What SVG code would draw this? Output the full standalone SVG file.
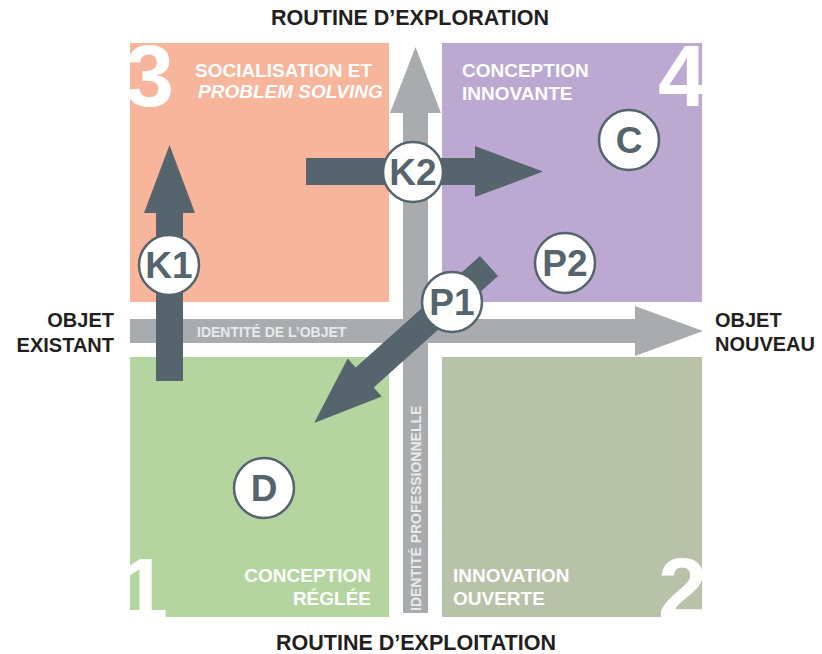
<svg xmlns="http://www.w3.org/2000/svg" width="822" height="654" viewBox="0 0 822 654">
<style>
.lbl{font-family:"Liberation Sans",Arial,sans-serif;font-weight:bold;font-size:19px;fill:#ffffff}
.num{font-family:"Liberation Sans",Arial,sans-serif;font-weight:bold;font-size:88px;fill:#ffffff}
.axis{font-family:"Liberation Sans",Arial,sans-serif;font-weight:bold;font-size:20px;fill:#231f20}
.title{font-family:"Liberation Sans",Arial,sans-serif;font-weight:bold;font-size:21.5px;fill:#231f20;text-anchor:middle}
.band{font-family:"Liberation Sans",Arial,sans-serif;font-weight:bold;font-size:14px;fill:#e9eaeb}
.node circle{fill:#ffffff;stroke:#56646e;stroke-width:2.5}
.node text{font-family:"Liberation Sans",Arial,sans-serif;font-weight:bold;font-size:37px;fill:#56646e;text-anchor:middle}
.dark{fill:#56646e}
.gray{fill:#a8acaf}
</style>
<defs>
<clipPath id="c3"><rect x="130" y="43" width="259" height="259"/></clipPath>
<clipPath id="c4"><rect x="442" y="43" width="260" height="259"/></clipPath>
<clipPath id="c1"><rect x="130" y="357" width="259" height="260"/></clipPath>
<clipPath id="c2"><rect x="442" y="357" width="260" height="260"/></clipPath>
</defs>
<rect width="822" height="654" fill="#ffffff"/>

<g id="q3">
<rect x="130" y="43" width="259" height="259" fill="#f7b59b"/>
<text class="num" x="125" y="106" clip-path="url(#c3)">3</text>
<text class="lbl" x="195" y="77">SOCIALISATION ET</text>
<text class="lbl" x="198" y="98" font-style="italic">PROBLEM SOLVING</text>
</g>
<g id="q4">
<rect x="442" y="43" width="260" height="259" fill="#bba9d2"/>
<text class="num" x="707" y="106" text-anchor="end" clip-path="url(#c4)">4</text>
<text class="lbl" x="462" y="77">CONCEPTION</text>
<text class="lbl" x="462" y="100">INNOVANTE</text>
</g>
<g id="q1">
<rect x="130" y="357" width="259" height="260" fill="#b4d5a0"/>
<text class="num" x="119" y="619" clip-path="url(#c1)">1</text>
<text class="lbl" x="371" y="582" text-anchor="end">CONCEPTION</text>
<text class="lbl" x="371" y="605" text-anchor="end">RÉGLÉE</text>
</g>
<g id="q2">
<rect x="442" y="357" width="260" height="260" fill="#b7c2a9"/>
<text class="num" x="707" y="619" text-anchor="end" clip-path="url(#c2)">2</text>
<text class="lbl" x="453" y="582">INNOVATION</text>
<text class="lbl" x="453" y="605">OUVERTE</text>
</g>

<g id="axes">
<path id="axis-objet" class="gray" d="M130,319 H635 V306 L703,331 L635,356 V343 H130 Z"/>
<path id="axis-routine" class="gray" d="M403,613 V113 H390 L415.5,47 L441,113 H428 V613 Z"/>
<text class="band" x="197" y="337">IDENTITÉ DE L’OBJET</text>
<text class="band" transform="translate(421,611) rotate(-90)">IDENTITÉ PROFESSIONNELLE</text>
</g>

<g id="axis-labels">
<text class="title" x="410" y="25">ROUTINE D’EXPLORATION</text>
<text class="title" x="416" y="650">ROUTINE D’EXPLOITATION</text>
<text class="axis" x="114" y="327" text-anchor="end">OBJET</text>
<text class="axis" x="114" y="352" text-anchor="end">EXISTANT</text>
<text class="axis" x="715" y="327">OBJET</text>
<text class="axis" x="715" y="351">NOUVEAU</text>
</g>

<g id="connectors">
<path id="arrow-k1" class="dark" transform="translate(169.5,381) rotate(-90)" d="M0,-13.5 H168 V-25.5 L236,0 L168,25.5 V13.5 H0 Z"/>
<path id="arrow-k2" class="dark" transform="translate(306,171.5)" d="M0,-13.5 H169 V-25.5 L237,0 L169,25.5 V13.5 H0 Z"/>
<path id="arrow-p1" class="dark" transform="translate(489,266) rotate(138.1)" d="M0,-13.5 H167 V-25.5 L235,0 L167,25.5 V13.5 H0 Z"/>
</g>

<g id="node-k1" class="node"><circle cx="169" cy="265" r="30"/><text x="169" y="278">K1</text></g>
<g id="node-k2" class="node"><circle cx="413" cy="172" r="30"/><text x="413" y="185">K2</text></g>
<g id="node-p1" class="node"><circle cx="452" cy="302" r="30"/><text x="452" y="315">P1</text></g>
<g id="node-p2" class="node"><circle cx="565" cy="263" r="30"/><text x="565" y="276">P2</text></g>
<g id="node-c" class="node"><circle cx="629" cy="140" r="30"/><text x="629" y="153">C</text></g>
<g id="node-d" class="node"><circle cx="264" cy="488" r="30"/><text x="264" y="501">D</text></g>
</svg>
